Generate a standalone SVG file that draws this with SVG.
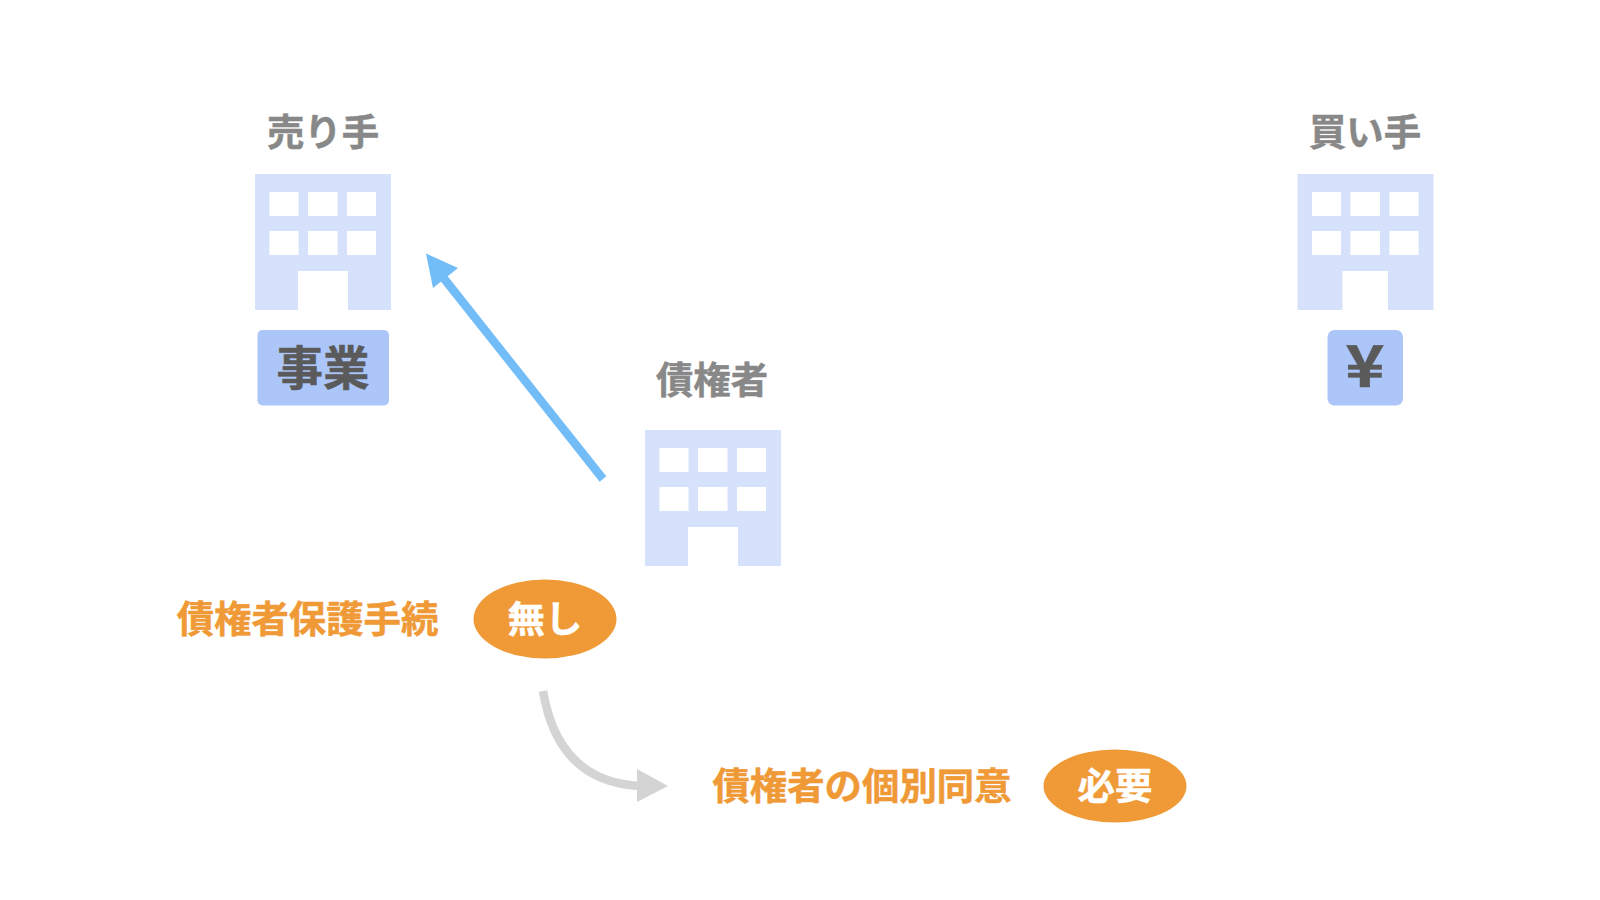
<svg xmlns="http://www.w3.org/2000/svg" width="1600" height="900" viewBox="0 0 1600 900">
<style>
text{font-family:"Noto Sans CJK JP","Noto Sans",sans-serif;font-weight:700;text-anchor:middle;stroke-width:.5px}
.lbl{font-size:37.400px;fill:#888888;stroke:#888888}
.or{font-size:37.400px;fill:#ef9a36;stroke:#ef9a36}
.wh{font-size:37.400px;fill:#ffffff;stroke:#ffffff}
.dk{font-size:46.500px;fill:#5a5a5a;stroke:#5a5a5a}
.b{fill:#d6e2fb}
.w{fill:#ffffff}
.badge{fill:#adc6fa}
.pill{fill:#ef9a36}
</style>
<defs>
<g id="win">
<rect class="b" x="0" y="0" width="136" height="136"/>
<rect class="w" x="14.500" y="18" width="29" height="24"/><rect class="w" x="53" y="18" width="29.500" height="24"/><rect class="w" x="92" y="18" width="29" height="24"/>
<rect class="w" x="14.500" y="57" width="29" height="24"/><rect class="w" x="53" y="57" width="29.500" height="24"/><rect class="w" x="92" y="57" width="29" height="24"/>
</g>
</defs>
<rect width="1600" height="900" fill="#ffffff"/>
<g id="connectors">
<path d="M603 479L442 276" fill="none" stroke="#72bdf8" stroke-width="8.500"/>
<path d="M426 253.500L458 268L433 288Z" fill="#72bdf8"/>
<path d="M543 691C552 745 580 783 640 786" fill="none" stroke="#d4d4d4" stroke-width="8.500"/>
<path d="M668 786L637 769V802Z" fill="#d4d4d4"/>
</g>
<g id="seller">
<text class="lbl" x="323" y="146">売り手</text>
<use href="#win" x="255" y="174"/>
<rect class="w" x="298" y="271" width="50" height="39"/>
<rect class="badge" x="257.500" y="330" width="131.500" height="75.500" rx="5"/>
<text class="dk" x="323" y="385">事業</text>
</g>
<g id="buyer">
<text class="lbl" x="1365" y="146">買い手</text>
<use href="#win" x="1297.500" y="174"/>
<rect class="w" x="1342.500" y="271" width="45.500" height="39"/>
<rect class="badge" x="1327.500" y="330" width="75.500" height="75.500" rx="7"/>
<text class="dk" transform="translate(1365 387) scale(1.15 1)" style="font-size:58px">¥</text>
</g>
<g id="creditor">
<text class="lbl" x="712" y="394">債権者</text>
<use href="#win" x="645" y="430"/>
<rect class="w" x="688" y="527" width="50" height="39"/>
</g>
<g id="procedure">
<text class="or" x="307.500" y="633">債権者保護手続</text>
<ellipse class="pill" cx="545" cy="619" rx="71.500" ry="39.500"/>
<text class="wh" x="545" y="633">無し</text>
</g>
<g id="consent">
<text class="or" x="862" y="800">債権者の個別同意</text>
<ellipse class="pill" cx="1115" cy="786" rx="71.500" ry="36.500"/>
<text class="wh" x="1115" y="800">必要</text>
</g>
</svg>
